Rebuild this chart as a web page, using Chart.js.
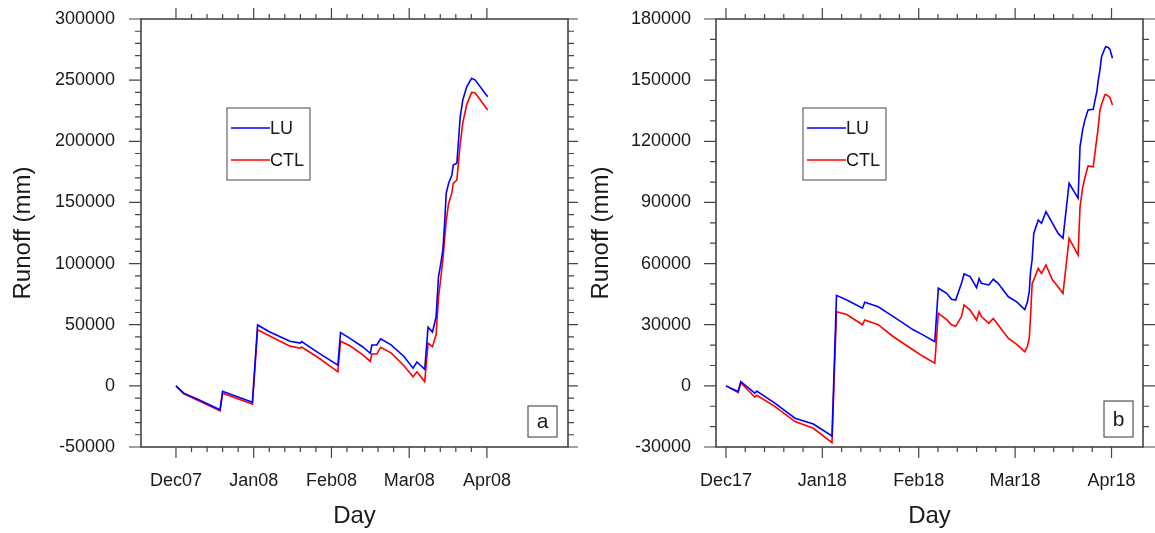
<!DOCTYPE html>
<html>
<head>
<meta charset="utf-8">
<script src="https://cdn.jsdelivr.net/npm/chart.js@4/dist/chart.umd.min.js"></script>
<style>
  html, body { margin: 0; padding: 0; background: #fff; }
  #wrap { position: relative; width: 1155px; height: 533px; overflow: hidden; }
  canvas { position: absolute; top: 0; }
  #panelA { left: 0; }
  #panelB { left: 578px; }
</style>
</head>
<body>
<div id="wrap">
  <canvas id="panelA" width="578" height="533"></canvas>
  <canvas id="panelB" width="577" height="533"></canvas>
</div>
<script>
// panel a: winter 2007/08 (days since 1 Dec 2007)
const dayA = [0, 3, 9, 17, 18, 29.5, 31.5, 36, 44, 48, 48.5, 55, 62.5, 63.5, 67, 72, 75, 75.6, 77.5, 79, 83, 88, 91.5, 93, 96, 97.3, 99, 100.4, 101.3, 102.2, 103, 103.6, 104.3, 105.2, 106.5, 107, 108.4, 109.7, 110.7, 112.2, 114.1, 115.5, 120.3];
const luA = [0, -6000, -11500, -19500, -4500, -13500, 49800, 44300, 36500, 35000, 36200, 27000, 17000, 43500, 39000, 32000, 26600, 33400, 33400, 38500, 33500, 24000, 14500, 19500, 13500, 48000, 44000, 56500, 89000, 100000, 111000, 130000, 157500, 165500, 172400, 180600, 182000, 220000, 233800, 244600, 251500, 250000, 236500];
const ctlA = [0, -6500, -12500, -20500, -6000, -15000, 45800, 41000, 32500, 30800, 31800, 23000, 11500, 36500, 33000, 25500, 20000, 26000, 26000, 31500, 27000, 16500, 7500, 11500, 3500, 34800, 32000, 42000, 72000, 88000, 103000, 118000, 135000, 149000, 158000, 165600, 168300, 198000, 215000, 230000, 240000, 239500, 225600];
const monthsA = ["Dec07", "Jan08", "Feb08", "Mar08", "Apr08"];

// panel b: winter 2017/18 (days since 1 Dec 2017)
const dayB = [0, 3.8, 4.6, 9, 9.6, 15.2, 21.5, 27.2, 33, 34.4, 37.6, 42.5, 43.2, 47.4, 52.1, 58.3, 61.3, 65, 66.1, 68.7, 70.2, 71.5, 73.3, 74.1, 76, 78, 78.8, 79.5, 81.8, 83.2, 84.7, 87.9, 90.4, 93, 93.8, 94.4, 94.8, 95.3, 95.8, 97.2, 98.2, 99.6, 101.6, 103.4, 104.9, 106.8, 109.6, 110.2, 111, 111.7, 112.7, 114.3, 115.5, 115.8, 116.4, 116.9, 117.9, 118.2, 119, 119.5, 120.3];
const luB = [0, -2800, 2100, -3600, -2600, -8500, -15900, -18700, -24600, 44400, 42100, 38100, 41000, 38800, 34000, 27500, 25000, 21700, 47900, 45400, 42500, 42100, 50300, 54900, 53600, 48200, 52700, 50300, 49500, 52300, 50300, 43700, 41300, 37400, 41000, 46200, 56000, 62000, 74800, 81400, 79800, 85500, 79800, 74800, 72400, 99400, 92000, 117300, 125500, 130400, 135400, 135700, 145000, 149200, 155000, 161500, 165500, 166400, 166000, 165100, 160700];
const ctlB = [0, -3300, 1500, -5500, -4600, -10100, -17500, -20800, -27900, 36400, 35000, 30000, 32300, 30000, 24100, 17600, 14500, 11100, 35600, 32500, 30000, 29200, 34000, 39700, 37200, 32300, 36400, 34000, 30700, 33100, 30000, 23300, 20500, 16800, 19300, 23300, 34000, 50300, 52000, 57700, 55200, 59300, 52000, 48500, 45400, 72400, 64200, 87900, 97000, 102000, 107900, 107500, 122300, 126000, 135400, 138000, 142700, 143000, 142200, 141500, 137800];
const monthsB = ["Dec17", "Jan18", "Feb18", "Mar18", "Apr18"];

const monthDays = [0, 30, 60, 90, 120];
const seriesNames = ["LU", "CTL"];
const seriesColors = ["#0000ff", "#ff0000"];

Chart.defaults.font.family = '"Liberation Sans", Arial, Helvetica, sans-serif';
Chart.defaults.color = "#1a1a1a";

const AXIS_COLOR = "#444";

// frame, outward major/minor ticks, inset legend and panel letter
const ncLook = {
  id: "ncLook",
  afterDraw(chart, args, opts) {
    const ctx = chart.ctx;
    const a = chart.chartArea;
    const xs = chart.scales.x;
    const ys = chart.scales.y;
    ctx.save();
    ctx.strokeStyle = AXIS_COLOR;
    ctx.lineWidth = 1.6;
    ctx.strokeRect(a.left, a.top, a.right - a.left, a.bottom - a.top);

    ctx.lineWidth = 1.2;
    ctx.beginPath();
    for (let d = monthDays[0]; d <= monthDays[monthDays.length - 1]; d += 6) {
      const px = xs.getPixelForValue(d);
      const len = monthDays.includes(d) ? 11 : 5;
      ctx.moveTo(px, a.bottom); ctx.lineTo(px, a.bottom + len);
      ctx.moveTo(px, a.top); ctx.lineTo(px, a.top - len);
    }
    for (let v = ys.min; v <= ys.max; v += 10000) {
      const py = ys.getPixelForValue(v);
      const len = (v - ys.min) % opts.yStep === 0 ? 12 : 6;
      ctx.moveTo(a.left, py); ctx.lineTo(a.left - len, py);
      ctx.moveTo(a.right, py); ctx.lineTo(a.right + len, py);
    }
    ctx.stroke();

    // legend
    const L = opts.legend;
    ctx.strokeStyle = "#666";
    ctx.lineWidth = 1.2;
    ctx.strokeRect(L.x, L.y, L.w, L.h);
    ctx.font = '18px "Liberation Sans", Arial, sans-serif';
    ctx.textBaseline = "middle";
    ctx.textAlign = "left";
    chart.data.datasets.forEach((ds, i) => {
      const ly = L.y + 20 + i * 32;
      ctx.strokeStyle = ds.borderColor;
      ctx.lineWidth = 1.5;
      ctx.beginPath();
      ctx.moveTo(L.x + 4, ly); ctx.lineTo(L.x + 43, ly);
      ctx.stroke();
      ctx.fillStyle = "#1a1a1a";
      ctx.fillText(ds.label, L.x + 43, ly + 1);
    });

    // panel letter
    const T = opts.tag;
    ctx.strokeStyle = "#555";
    ctx.lineWidth = 1.2;
    ctx.strokeRect(T.x, T.y, T.w, T.h);
    ctx.font = '21px "Liberation Sans", Arial, sans-serif';
    ctx.textAlign = "center";
    ctx.fillStyle = "#1a1a1a";
    ctx.fillText(T.text, T.x + T.w / 2, T.y + T.h / 2 + 1);
    ctx.restore();
  }
};

function makePanel(canvasId, days, lu, ctl, months, cfg) {
  const series = [lu, ctl];
  return new Chart(document.getElementById(canvasId), {
    type: "line",
    data: {
      datasets: series.map((vals, i) => ({
        label: seriesNames[i],
        data: days.map((d, k) => ({ x: d, y: vals[k] })),
        borderColor: seriesColors[i],
        borderWidth: 1.6,
        pointRadius: 0,
        tension: 0,
        fill: false
      }))
    },
    options: {
      responsive: false,
      animation: false,
      layout: { padding: { top: 19, right: cfg.padRight, left: 0, bottom: 0 } },
      plugins: {
        legend: { display: false },
        tooltip: { enabled: false },
        ncLook: { yStep: cfg.yStep, legend: cfg.legend, tag: cfg.tag }
      },
      scales: {
        x: {
          type: "linear",
          min: cfg.xMin,
          max: cfg.xMax,
          grid: { display: false },
          border: { display: false },
          afterBuildTicks: s => { s.ticks = monthDays.map(v => ({ value: v })); },
          afterFit: s => { s.height = 86; s.paddingLeft = 0; s.paddingRight = 0; },
          ticks: {
            padding: 15,
            maxRotation: 0,
            autoSkip: false,
            font: { size: 18 },
            callback: v => months[monthDays.indexOf(v)]
          },
          title: {
            display: true,
            text: "Day",
            font: { size: 24 },
            padding: { top: 0, bottom: 2 }
          }
        },
        y: {
          min: cfg.yMin,
          max: cfg.yMax,
          grid: { display: false },
          border: { display: false },
          afterFit: s => { s.width = cfg.yWidth; s.paddingTop = 0; s.paddingBottom = 0; },
          ticks: {
            stepSize: cfg.yStep,
            padding: cfg.labelPad,
            font: { size: 18 },
            callback: v => String(v)
          },
          title: {
            display: true,
            text: "Runoff (mm)",
            font: { size: 24 },
            padding: { top: 9, bottom: 0 }
          }
        }
      }
    },
    plugins: [ncLook]
  });
}

makePanel("panelA", dayA, luA, ctlA, monthsA, {
  xMin: -13.5, xMax: 151.3,
  yMin: -50000, yMax: 300000, yStep: 50000,
  yWidth: 141, padRight: 10, labelPad: 18,
  legend: { x: 227, y: 108, w: 83, h: 72 },
  tag: { x: 528, y: 406, w: 29, h: 31, text: "a" }
});

makePanel("panelB", dayB, luB, ctlB, monthsB, {
  xMin: -3.1, xMax: 129.8,
  yMin: -30000, yMax: 180000, yStep: 30000,
  yWidth: 138, padRight: 12, labelPad: 17,
  legend: { x: 225, y: 108, w: 83, h: 72 },
  tag: { x: 526, y: 401, w: 29, h: 36, text: "b" }
});
</script>
</body>
</html>
